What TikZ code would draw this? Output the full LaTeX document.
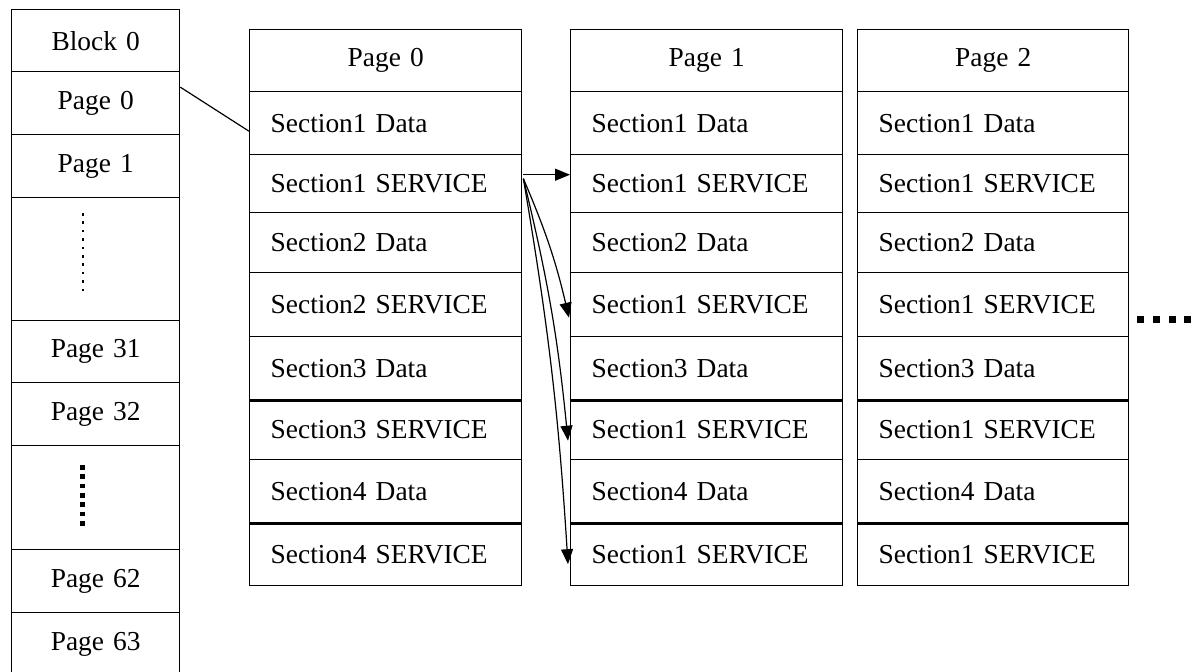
\documentclass[tikz,border=0pt]{standalone}
\usepackage{fontspec}
\setmainfont{Liberation Serif}
\usetikzlibrary{arrows.meta,calc}
\newcommand\mkcell[7]{%
  \pgfmathsetmacro\cw{(#4-#2)*0.5}%
  \pgfmathsetmacro\ch{(#5-#3)*0.5}%
  \pgfmathsetmacro\tw{(#4-#2)*0.5-21}%
  \node[cell,minimum width=\cw pt,minimum height=\ch pt,text width=\tw pt,align=#6] (#1) at (#2,#3) {#7};%
}
\tikzset{
  cell/.style={draw,rectangle,line width=0.7pt,inner sep=0pt,inner xsep=10.5pt,anchor=north west,
    font=\fontsize{13.7}{16}\selectfont},
  thickline/.style={line width=1.2pt},
  link/.style={line width=0.6pt},
  ptr/.style={line width=0.6pt,-{Triangle[length=7.5pt,width=6pt]}},
}
\begin{document}
\begin{tikzpicture}[x=0.5pt,y=-0.5pt]
\useasboundingbox (0,0) rectangle (1200,671);
\fill[white] (0,0) rectangle (1200,671);
\clip (0,0) rectangle (1200,671);

% left column
\foreach \i/\ya/\yb/\t in {0/9/71/Block 0, 1/71/134/Page 0, 2/134/197/Page 1, 3/197/320/{}, 4/320/382/Page 31, 5/382/445/Page 32, 6/445/549/{}, 7/549/612/Page 62, 8/612/676/Page 63}
  {\mkcell{L\i}{11}{\ya}{179}{\yb}{center}{\t}}
\draw[line width=1.3pt,dash pattern=on 1.3pt off 2.9pt] (83,213) -- (83,292);
\draw[line width=2.5pt,dash pattern=on 2.4pt off 2.25pt] (82,465) -- (82,530);

% page tables
\foreach \i/\ya/\yb/\t in {0/29/91/Page 0, 1/91/154/Section1 Data, 2/154/212/Section1 SERVICE, 3/212/272/Section2 Data, 4/272/336/Section2 SERVICE, 5/336/399/Section3 Data, 6/399/459/Section3 SERVICE, 7/459/522/Section4 Data, 8/522/585/Section4 SERVICE}
  {\ifnum\i=0 \mkcell{p0r\i}{249}{\ya}{521}{\yb}{center}{\t}\else \mkcell{p0r\i}{249}{\ya}{521}{\yb}{left}{\t}\fi}
\foreach \i/\ya/\yb/\t in {0/29/91/Page 1, 1/91/154/Section1 Data, 2/154/212/Section1 SERVICE, 3/212/272/Section2 Data, 4/272/336/Section1 SERVICE, 5/336/399/Section3 Data, 6/399/459/Section1 SERVICE, 7/459/522/Section4 Data, 8/522/585/Section1 SERVICE}
  {\ifnum\i=0 \mkcell{p1r\i}{570}{\ya}{842}{\yb}{center}{\t}\else \mkcell{p1r\i}{570}{\ya}{842}{\yb}{left}{\t}\fi}
\foreach \i/\ya/\yb/\t in {0/29/91/Page 2, 1/91/154/Section1 Data, 2/154/212/Section1 SERVICE, 3/212/272/Section2 Data, 4/272/336/Section1 SERVICE, 5/336/399/Section3 Data, 6/399/459/Section1 SERVICE, 7/459/522/Section4 Data, 8/522/585/Section1 SERVICE}
  {\ifnum\i=0 \mkcell{p2r\i}{857}{\ya}{1128}{\yb}{center}{\t}\else \mkcell{p2r\i}{857}{\ya}{1128}{\yb}{left}{\t}\fi}

% thicker separators
\foreach \p in {p0,p1,p2}{
  \draw[thickline] (\p r5.south west) -- (\p r5.south east);
  \draw[thickline] (\p r7.south west) -- (\p r7.south east);
}

% continuation dots
\draw[line width=3.5pt,dash pattern=on 3.5pt off 4.3pt] ($(p2r4.east)+(8,15)$) -- ($(p2r4.east)+(68,15)$);

% link from block list to page 0
\draw[link] ($(L1.east)+(0,-16)$) -- ($(p0r1.west)+(0,8)$);

% arrows
\draw[ptr] ($(p0r2.east)+(1,-9)$) -- ($(p1r2.west)+(0,-9)$);
\draw[ptr] ($(p0r2.east)+(1,-5)$) to[bend left=5] ($(p1r4.west)+(-1,13)$);
\draw[ptr] ($(p0r2.east)+(1,-5)$) to[bend left=4] ($(p1r6.west)+(-2,11)$);
\draw[ptr] ($(p0r2.east)+(1,-5)$) to[bend left=3] ($(p1r8.west)+(-2,10)$);
\end{tikzpicture}
\end{document}
